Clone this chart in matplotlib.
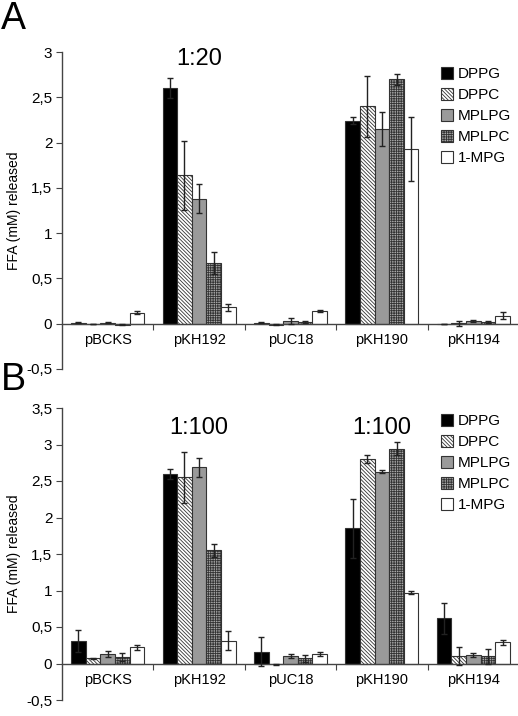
import matplotlib
matplotlib.use("Agg")
import matplotlib.pyplot as plt
import numpy as np
from matplotlib.patches import Patch

plt.rcParams['font.family'] = ['Liberation Sans', 'DejaVu Sans']
plt.rcParams['hatch.linewidth'] = 0.6

categories = ["pBCKS", "pKH192", "pUC18", "pKH190", "pKH194"]
series = ["DPPG", "DPPC", "MPLPG", "MPLPC", "1-MPG"]

# Panel A (1:20)
a_vals = {
    "DPPG":  [0.01, 2.60, 0.01, 2.24, 0.00],
    "DPPC":  [0.00, 1.64, -0.01, 2.40, 0.005],
    "MPLPG": [0.01, 1.38, 0.03, 2.15, 0.03],
    "MPLPC": [-0.01, 0.67, 0.02, 2.70, 0.02],
    "1-MPG": [0.12, 0.18, 0.14, 1.93, 0.09],
}
a_errs = {
    "DPPG":  [0.005, 0.11, 0.005, 0.04, 0.0],
    "DPPC":  [0.0, 0.38, 0.005, 0.34, 0.03],
    "MPLPG": [0.005, 0.16, 0.03, 0.19, 0.01],
    "MPLPC": [0.005, 0.12, 0.01, 0.06, 0.01],
    "1-MPG": [0.015, 0.04, 0.01, 0.35, 0.04],
}
# Panel B (1:100)
b_vals = {
    "DPPG":  [0.31, 2.60, 0.16, 1.85, 0.62],
    "DPPC":  [0.07, 2.55, -0.01, 2.80, 0.10],
    "MPLPG": [0.13, 2.69, 0.10, 2.63, 0.12],
    "MPLPC": [0.09, 1.55, 0.07, 2.94, 0.10],
    "1-MPG": [0.22, 0.31, 0.13, 0.97, 0.29],
}
b_errs = {
    "DPPG":  [0.15, 0.07, 0.20, 0.40, 0.21],
    "DPPC":  [0.01, 0.35, 0.005, 0.05, 0.12],
    "MPLPG": [0.04, 0.13, 0.03, 0.02, 0.03],
    "MPLPC": [0.05, 0.09, 0.05, 0.09, 0.10],
    "1-MPG": [0.04, 0.13, 0.03, 0.02, 0.03],
}

styles = {
    "DPPG":  dict(facecolor="black", hatch=None),
    "DPPC":  dict(facecolor="white", hatch="\\" * 9),
    "MPLPG": dict(facecolor="#9a9a9a", hatch=None),
    "MPLPC": dict(facecolor="#a8a8a8", hatch="+" * 7),
    "1-MPG": dict(facecolor="white", hatch=None),
}

W, H = 518, 716
fig = plt.figure(figsize=(W / 100, H / 100), dpi=100)


def fmt(v, pos=None):
    s = ("%g" % v).replace(".", ",")
    if s == "-0":
        s = "0"
    return s


def panel(rect, vals, errs, ylim, yticks, ratios, ratio_x, legend_y):
    ax = fig.add_axes(rect)
    x = np.arange(len(categories))
    bw = 0.8 / len(series)
    for i, s in enumerate(series):
        st = styles[s]
        xpos = x - 0.4 + bw * (i + 0.5)
        ax.bar(xpos, vals[s], width=bw, facecolor=st["facecolor"],
               edgecolor="#333333", linewidth=0.8, hatch=st["hatch"], zorder=2)
        ax.errorbar(xpos, vals[s], yerr=errs[s], fmt="none", ecolor="#222222",
                    elinewidth=1.0, capsize=2.5, capthick=1.0, zorder=3)
    ax.set_xlim(-0.5, len(categories) - 0.5)
    ax.set_ylim(*ylim)
    ax.set_yticks(yticks)
    ax.set_yticklabels([fmt(v) for v in yticks], fontsize=11)
    ax.spines["top"].set_visible(False)
    ax.spines["right"].set_visible(False)
    ax.spines["bottom"].set_position(("data", 0))
    for sp in ("left", "bottom"):
        ax.spines[sp].set_color("#444444")
        ax.spines[sp].set_linewidth(1.0)
    ax.set_xticks(np.arange(len(categories)) + 0.5)
    ax.set_xticklabels([])
    ax.set_xticks(x, minor=True)
    ax.set_xticklabels(categories, minor=True, fontsize=10.5)
    ax.tick_params(axis="x", which="major", direction="out", length=4, color="#444444")
    ax.tick_params(axis="x", which="minor", length=0, pad=7)
    ax.tick_params(axis="y", direction="out", length=4, color="#444444", pad=3)
    ax.set_ylabel("FFA (mM) released", fontsize=10, labelpad=4)
    for (xc, yv, txt) in ratios:
        ax.text(xc, yv, txt, ha="center", va="center", fontsize=17)
    handles = [Patch(facecolor=styles[s]["facecolor"], edgecolor="#333333",
                     hatch=styles[s]["hatch"], linewidth=0.8, label=s) for s in series]
    ax.legend(handles=handles, loc="upper left", bbox_to_anchor=(ratio_x, legend_y),
              bbox_transform=fig.transFigure, frameon=False, fontsize=11,
              handlelength=0.8, handleheight=0.8, handletextpad=0.3,
              labelspacing=0.45, borderpad=0, borderaxespad=0)
    return ax


# Panel A
axA = panel([62 / W, 1 - 369 / H, 457 / W, (369 - 52) / H],
            a_vals, a_errs, (-0.5, 3.0), [-0.5, 0, 0.5, 1, 1.5, 2, 2.5, 3],
            [(1.0, 2.92, "1:20")], 441 / W, 1 - 67 / H)
# Panel B
axB = panel([62 / W, 1 - 700 / H, 457 / W, (700 - 408) / H],
            b_vals, b_errs, (-0.5, 3.5), [-0.5, 0, 0.5, 1, 1.5, 2, 2.5, 3, 3.5],
            [(1.0, 3.22, "1:100"), (3.0, 3.22, "1:100")], 441 / W, 1 - 414 / H)

fig.text(1 / W, 1 - 1 / H, "A", fontsize=27, va="top", ha="left")
fig.text(1 / W, 1 - 362 / H, "B", fontsize=27, va="top", ha="left")

fig.savefig("out.png", dpi=100)
